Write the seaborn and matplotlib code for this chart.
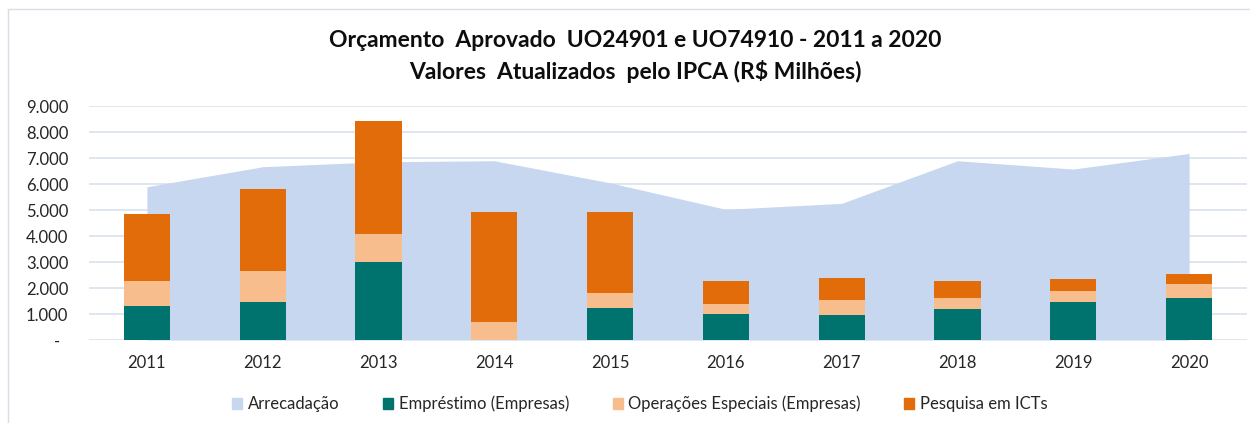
import numpy as np
import pandas as pd
import seaborn as sns
import matplotlib
matplotlib.use("Agg")
import matplotlib.pyplot as plt
from matplotlib.patches import Patch, Rectangle
from matplotlib.ticker import FuncFormatter

sns.set_style("white")
plt.rcParams['font.family'] = ['Lato', 'DejaVu Sans']

anos = ['2011', '2012', '2013', '2014', '2015', '2016', '2017', '2018', '2019', '2020']
arrecadacao = [5900, 6670, 6860, 6900, 6050, 5030, 5260, 6900, 6580, 7180]
emprestimo = [1310, 1460, 2990, 0, 1220, 1010, 970, 1200, 1450, 1630]
operacoes = [970, 1190, 1110, 710, 600, 390, 570, 430, 420, 510]
pesquisa = [2570, 3150, 4340, 4230, 3120, 880, 830, 650, 480, 420]

cor_area = "#C6D7EF"
cor_emp = "#00736F"
cor_op = "#F8BD8D"
cor_pesq = "#E36C0A"

df = pd.DataFrame({'ano': anos, 'emp': emprestimo, 'op': operacoes, 'pesq': pesquisa})
df['nivel2'] = df['emp'] + df['op']
df['total'] = df['nivel2'] + df['pesq']

fig = plt.figure(figsize=(12.5, 4.23), dpi=100)
ax = fig.add_axes([0.0712, 0.196, 0.9264, 0.553])

x = np.arange(len(anos))
ax.fill_between(x, 0, arrecadacao, color=cor_area, linewidth=0, zorder=1)

# barras empilhadas: total atrás, camadas menores na frente
sns.barplot(data=df, x='ano', y='total', color=cor_pesq, width=0.4, saturation=1,
            linewidth=0, ax=ax, zorder=2)
sns.barplot(data=df, x='ano', y='nivel2', color=cor_op, width=0.4, saturation=1,
            linewidth=0, ax=ax, zorder=3)
sns.barplot(data=df, x='ano', y='emp', color=cor_emp, width=0.4, saturation=1,
            linewidth=0, ax=ax, zorder=4)

ax.set_xlim(-0.5, 9.5)
ax.set_ylim(0, 9000)
ax.set_yticks(range(0, 9001, 1000))
ax.yaxis.set_major_formatter(FuncFormatter(
    lambda v, p: '-  ' if v == 0 else f"{int(v):,}".replace(',', '.')))
ax.grid(axis='y', color='#D9E1EC', linewidth=1.2, zorder=0)
ax.set_axisbelow(True)
for s in ax.spines.values():
    s.set_visible(False)
ax.set_xlabel('')
ax.set_ylabel('')
ax.tick_params(axis='both', length=0, labelsize=12, colors='#262626')
ax.tick_params(axis='y', pad=15)
ax.tick_params(axis='x', pad=11)

fig.text(0.508, 0.905, 'Orçamento  Aprovado  UO24901 e UO74910 - 2011 a 2020',
         ha='center', va='center', fontsize=16.5, fontweight='bold', color='#0D0D0D')
fig.text(0.508, 0.832, 'Valores  Atualizados  pelo IPCA (R$ Milhões)',
         ha='center', va='center', fontsize=16.5, fontweight='bold', color='#0D0D0D')

handles = [Patch(color=cor_area), Patch(color=cor_emp), Patch(color=cor_op), Patch(color=cor_pesq)]
labels = ['Arrecadação', 'Empréstimo (Empresas)', 'Operações Especiais (Empresas)', 'Pesquisa em ICTs']
fig.legend(handles, labels, loc='center', bbox_to_anchor=(0.512, 0.045), ncol=4, frameon=False,
           fontsize=12, handlelength=0.6, handleheight=0.6, handletextpad=0.35, columnspacing=2.6,
           labelcolor='#262626')

fig.patches.append(Rectangle((8 / 1250, -0.1), 1.2, 1 - 9 / 423 + 0.1, transform=fig.transFigure,
                             fill=False, edgecolor='#D6DEE8', linewidth=1))

fig.savefig('out.png', dpi=100)
